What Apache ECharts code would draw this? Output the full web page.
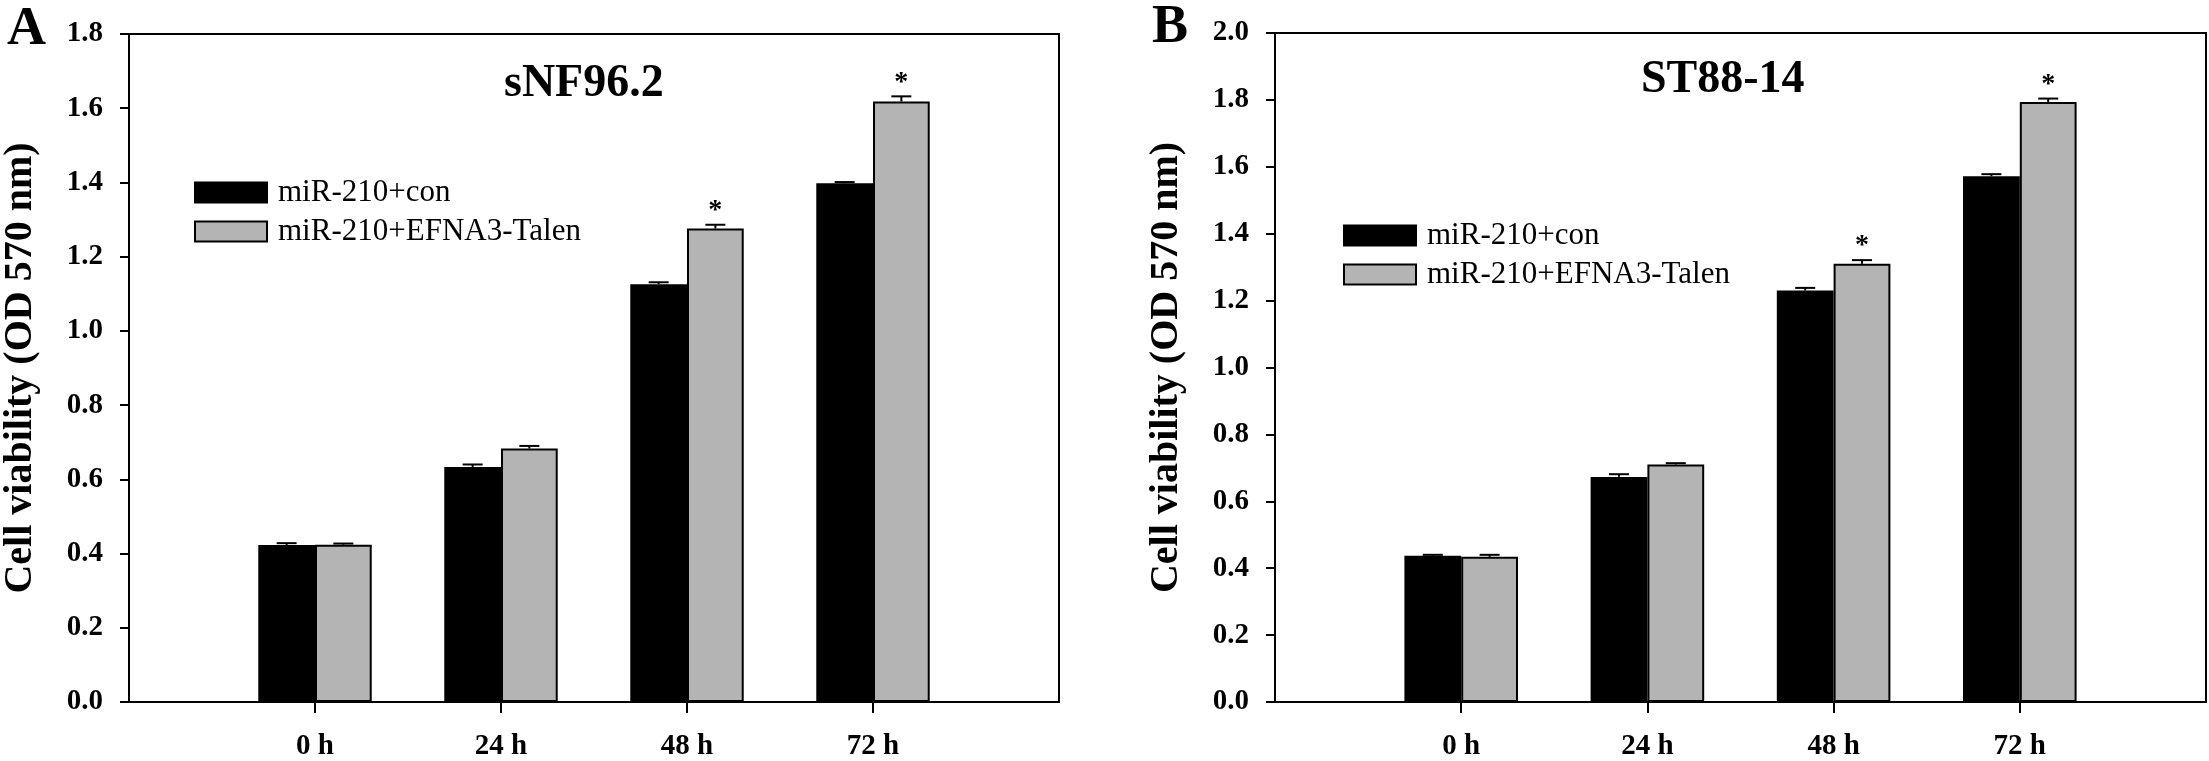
<!DOCTYPE html>
<html>
<head>
<meta charset="utf-8">
<script src="https://cdn.jsdelivr.net/npm/echarts@6/dist/echarts.min.js"></script>
<style>
  html, body { margin: 0; padding: 0; background: #fff; }
  #chart { width: 2209px; height: 761px; }
</style>
</head>
<body>
<div id="chart"></div>
<script>
// time points (empty slots at both ends, as in the original layout)
var categories = ['', '0 h', '24 h', '48 h', '72 h', ''];
var seriesNames = ['miR-210+con', 'miR-210+EFNA3-Talen'];

// panel A: sNF96.2
var conA = [0.423, 0.633, 1.126, 1.398];
var conErrA = [0.005, 0.007, 0.005, 0.003];
var talenA = [0.424, 0.683, 1.276, 1.618];
var talenErrA = [0.003, 0.007, 0.010, 0.014];
var sigA = [0, 0, 1, 1];
var yTicksA = { min: 0, max: 1.8, interval: 0.2 };

// panel B: ST88-14
var conB = [0.437, 0.673, 1.230, 1.572];
var conErrB = [0.003, 0.008, 0.008, 0.006];
var talenB = [0.434, 0.710, 1.310, 1.794];
var talenErrB = [0.006, 0.004, 0.011, 0.010];
var sigB = [0, 0, 1, 1];
var yTicksB = { min: 0, max: 2.0, interval: 0.2 };

var FONT = 'Liberation Serif';
var BAR_FRAC = 0.305;

function pad(arr) {
  return ['-'].concat(arr).concat(['-']);
}

function errData(vals, errs, sig) {
  return vals.map(function (v, i) { return [i + 1, v, errs[i], sig[i]]; });
}

function errRender(side) {
  return function (params, api) {
    var idx = api.value(0), m = api.value(1), e = api.value(2), s = api.value(3);
    var band = api.size([1, 0])[0];
    var x = api.coord([idx, m])[0] + side * band * BAR_FRAC / 2;
    var y0 = api.coord([idx, m])[1];
    var y1 = api.coord([idx, m + e])[1];
    var ls = { stroke: '#000', lineWidth: 2 };
    var kids = [
      { type: 'line', shape: { x1: x, y1: y0, x2: x, y2: y1 }, style: ls },
      { type: 'line', shape: { x1: x - 10, y1: y1, x2: x + 10, y2: y1 }, style: ls }
    ];
    if (s) {
      kids.push({
        type: 'text', x: x, y: y1 - 14,
        style: { text: '*', fill: '#000', font: 'bold 28px "' + FONT + '"', align: 'center', verticalAlign: 'middle' }
      });
    }
    return { type: 'group', children: kids };
  };
}

function xAxisCfg(gi) {
  return {
    gridIndex: gi, type: 'category', data: categories, boundaryGap: false,
    axisLine: { lineStyle: { color: '#000', width: 2 } },
    axisTick: {
      length: 11, lineStyle: { color: '#000', width: 2 },
      interval: function (i, v) { return v !== ''; }
    },
    axisLabel: { interval: 0, margin: 30, color: '#000', fontFamily: FONT, fontWeight: 'bold', fontSize: 29 },
    splitLine: { show: false }
  };
}

function yAxisCfg(gi, t) {
  return {
    gridIndex: gi, type: 'value', min: t.min, max: t.max, interval: t.interval,
    name: 'Cell viability (OD 570 nm)', nameLocation: 'middle', nameGap: 88, nameRotate: 90,
    nameTextStyle: { color: '#000', fontFamily: FONT, fontWeight: 'bold', fontSize: 40 },
    axisLine: { show: true, lineStyle: { color: '#000', width: 2 } },
    axisTick: { show: true, length: 9, lineStyle: { color: '#000', width: 2 } },
    axisLabel: {
      margin: 26, color: '#000', fontFamily: FONT, fontWeight: 'bold', fontSize: 29,
      formatter: function (v) { return v.toFixed(1); }
    },
    splitLine: { show: false }
  };
}

function barSeries(name, gi, vals, color) {
  return {
    name: name, type: 'bar', xAxisIndex: gi, yAxisIndex: gi,
    data: pad(vals), barWidth: (BAR_FRAC * 100) + '%', barGap: '0%',
    itemStyle: { color: color, borderColor: '#000', borderWidth: 2 },
    animation: false
  };
}

function errSeries(gi, vals, errs, sig, side) {
  return {
    type: 'custom', xAxisIndex: gi, yAxisIndex: gi, z: 5,
    data: errData(vals, errs, sig), renderItem: errRender(side),
    encode: { x: 0, y: 1 }, animation: false, silent: true
  };
}

function legendCfg(left, top) {
  return {
    left: left, top: top, orient: 'vertical', icon: 'rect',
    itemWidth: 72, itemHeight: 20, itemGap: 8,
    data: seriesNames,
    textStyle: { color: '#000', fontFamily: FONT, fontSize: 31, padding: [0, 0, 0, 6] }
  };
}

var chart = echarts.init(document.getElementById('chart'));
chart.setOption({
  backgroundColor: '#fff',
  animation: false,
  title: [
    { text: 'sNF96.2', left: 499, top: 56, textStyle: { color: '#000', fontFamily: FONT, fontWeight: 'bold', fontSize: 46 } },
    { text: 'ST88-14', left: 1636, top: 52, textStyle: { color: '#000', fontFamily: FONT, fontWeight: 'bold', fontSize: 46 } },
    { text: 'A', left: 2, top: -2, textStyle: { color: '#000', fontFamily: FONT, fontWeight: 'bold', fontSize: 54 } },
    { text: 'B', left: 1147, top: -4, textStyle: { color: '#000', fontFamily: FONT, fontWeight: 'bold', fontSize: 54 } }
  ],
  legend: [legendCfg(189, 172), legendCfg(1338, 215)],
  grid: [
    { left: 126, top: 34, width: 933, height: 672, show: true, borderColor: '#000', borderWidth: 2 },
    { left: 1275, top: 33, width: 932, height: 672, show: true, borderColor: '#000', borderWidth: 2 }
  ],
  xAxis: [xAxisCfg(0), xAxisCfg(1)],
  yAxis: [yAxisCfg(0, yTicksA), yAxisCfg(1, yTicksB)],
  series: [
    barSeries(seriesNames[0], 0, conA, '#000000'),
    barSeries(seriesNames[1], 0, talenA, '#b4b4b4'),
    barSeries(seriesNames[0], 1, conB, '#000000'),
    barSeries(seriesNames[1], 1, talenB, '#b4b4b4'),
    errSeries(0, conA, conErrA, [0, 0, 0, 0], -1),
    errSeries(0, talenA, talenErrA, sigA, 1),
    errSeries(1, conB, conErrB, [0, 0, 0, 0], -1),
    errSeries(1, talenB, talenErrB, sigB, 1)
  ]
});
</script>
</body>
</html>
